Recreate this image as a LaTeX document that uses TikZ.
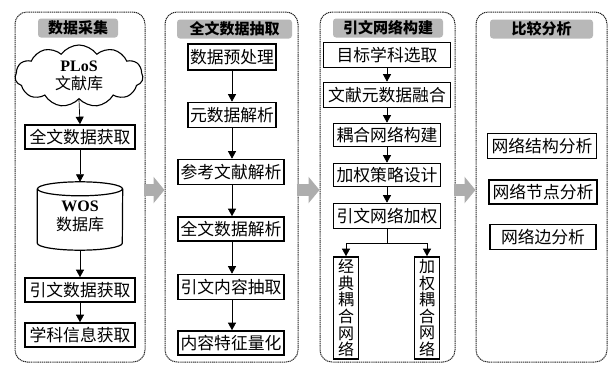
\documentclass[tikz,border=0pt]{standalone}
\usepackage{fontspec}
\setmainfont{Liberation Serif}
\newfontfamily\cjk{Noto Sans CJK SC}
\usetikzlibrary{shapes.symbols,arrows.meta}
\begin{document}
\begin{tikzpicture}[x=1pt,y=-1pt,
  panel/.style={draw=black!85,line width=1pt,dash pattern=on 1.2pt off 0.7pt,rounded corners=12pt,minimum height=350pt,inner sep=0pt},
  titlebar/.style={fill=black!28,rounded corners=3pt,minimum height=19pt,inner sep=0pt,font=\cjk\bfseries\fontsize{15}{17}\selectfont},
  box/.style={draw,line width=1.6pt,inner sep=1pt,font=\cjk\fontsize{16.8}{18}\selectfont},
  vbox/.style={draw,line width=1.6pt,inner sep=1pt,minimum width=25pt,minimum height=102pt,align=center,font=\cjk\fontsize{16}{16.6}\selectfont},
  arr/.style={-{Triangle[length=7.5pt,width=8pt]},line width=0.7pt},
  bigarrow/.style={-{Triangle[length=11pt,width=26pt]},line width=12pt,draw=black!32}
]
\useasboundingbox (0,0) rectangle (613,367);
% panels
\node[panel,minimum width=130pt] (p1) at (80,187) {};
\node[panel,minimum width=133pt] (p2) at (231.5,187) {};
\node[panel,minimum width=135pt] (p3) at (387.5,187) {};
\node[panel,minimum width=131pt] (p4) at (541.5,187) {};
% titles
\node[titlebar,minimum width=80pt] (t1) at (78,28) {数据采集};
\node[titlebar,minimum width=115pt] (t2) at (234.5,29) {全文数据抽取};
\node[titlebar,minimum width=110pt] (t3) at (388,28) {引文网络构建};
\node[titlebar,minimum width=103pt] (t4) at (541.5,29) {比较分析};
% panel 1
\node[cloud,draw,line width=1.1pt,cloud puffs=11,cloud puff arc=110,aspect=2.3,minimum width=128pt,minimum height=62pt,inner sep=0pt,align=center,font=\cjk\fontsize{16}{18}\selectfont] (cl) at (79,76) {{\rmfamily\bfseries PLoS}\\文献库};
\node[box,minimum width=110pt,minimum height=24pt] (a1) at (80,137) {全文数据获取};
\node[minimum width=85pt,minimum height=68pt,inner sep=0pt,align=center,font=\cjk\fontsize{16}{19}\selectfont] (wos) at (80,216) {\rule{0pt}{10pt}{\rmfamily\bfseries WOS}\\数据库};
\draw[line width=1.2pt] ([yshift=-7pt]wos.north west) -- ([yshift=7pt]wos.south west)
  arc[start angle=180,end angle=360,x radius=42.5pt,y radius=7pt] -- ([yshift=-7pt]wos.north east);
\draw[line width=1.2pt] ([yshift=-7pt]wos.north) ellipse[x radius=42.5pt,y radius=7pt];
\node[box,minimum width=110pt,minimum height=24pt] (a2) at (80,290) {引文数据获取};
\node[box,minimum width=110pt,minimum height=24pt] (a3) at (80,335) {学科信息获取};
\draw[arr] (cl.south) -- (a1.north);
\draw[arr] (a1.south) -- (wos.north);
\draw[arr] (wos.south) -- (a2.north);
\draw[arr] (a2.south) -- (a3.north);
% panel 2
\node[box,minimum width=88pt,minimum height=26pt] (b1) at (232,57) {数据预处理};
\node[box,minimum width=88pt,minimum height=25pt] (b2) at (232,115) {元数据解析};
\node[box,minimum width=106pt,minimum height=25pt] (b3) at (231,172) {参考文献解析};
\node[box,minimum width=106pt,minimum height=24pt] (b4) at (231,229) {全文数据解析};
\node[box,minimum width=106pt,minimum height=25pt] (b5) at (231,287) {引文内容抽取};
\node[box,minimum width=106pt,minimum height=24pt] (b6) at (231,343) {内容特征量化};
\draw[arr] (b1.south) -- (b1.south |- b2.north);
\draw[arr] (b2.south) -- (b2.south |- b3.north);
\draw[arr] (b2.south |- b3.south) -- (b2.south |- b4.north);
\draw[arr] (b2.south |- b4.south) -- (b2.south |- b5.north);
\draw[arr] (b2.south |- b5.south) -- (b2.south |- b6.north);
% panel 3
\node[box,minimum width=127pt,minimum height=25pt] (c1) at (387,55) {目标学科选取};
\node[box,minimum width=127pt,minimum height=25pt] (c2) at (387,95) {文献元数据融合};
\node[box,minimum width=107pt,minimum height=23pt] (c3) at (387,135) {耦合网络构建};
\node[box,minimum width=107pt,minimum height=23pt] (c4) at (387,175) {加权策略设计};
\node[box,minimum width=107pt,minimum height=25pt] (c5) at (387,216) {引文网络加权};
\coordinate (sp) at (387,243);
\node[vbox] (v1) at (346,308) {经\\典\\耦\\合\\网\\络};
\node[vbox] (v2) at (427,308) {加\\权\\耦\\合\\网\\络};
\draw[arr] (c1.south) -- (c2.north);
\draw[arr] (c2.south) -- (c3.north);
\draw[arr] (c3.south) -- (c4.north);
\draw[arr] (c4.south) -- (c5.north);
\draw[line width=0.7pt] (c5.south) -- (sp);
\draw[arr] (sp) -| (v1.north);
\draw[arr] (sp) -| (v2.north);
% panel 4
\node[box,minimum width=109pt,minimum height=25pt] (d1) at (542,146) {网络结构分析};
\node[box,minimum width=108pt,minimum height=24pt] (d2) at (543,192) {网络节点分析};
\node[box,minimum width=106pt,minimum height=25pt] (d3) at (543,237) {网络边分析};
% big arrows
\draw[bigarrow] ([yshift=-3pt,xshift=-2pt]p1.east) -- ([yshift=-3pt]p2.west);
\draw[bigarrow] ([yshift=-3pt,xshift=-2pt]p2.east) -- ([yshift=-3pt]p3.west);
\draw[bigarrow] ([yshift=-3pt,xshift=-2pt]p3.east) -- ([yshift=-3pt]p4.west);
\end{tikzpicture}
\end{document}
